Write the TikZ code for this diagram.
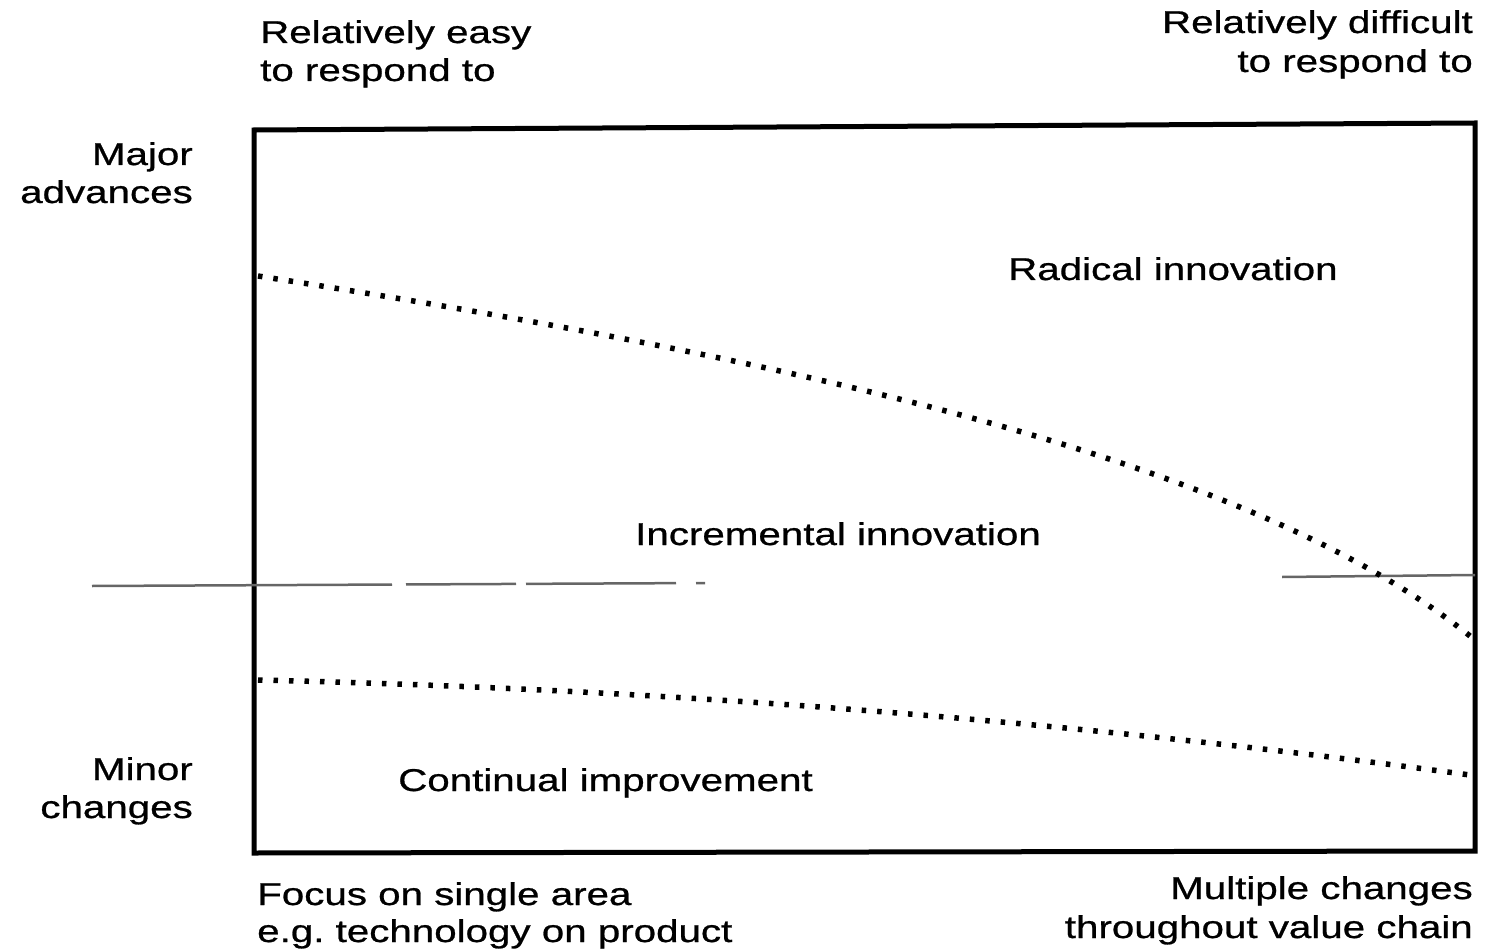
\documentclass[tikz,border=0pt]{standalone}
\usepackage{fontspec}
\setmainfont{Liberation Sans}[FakeStretch=1.28,FakeBold=0.8]
\begin{document}
\begin{tikzpicture}[x=1pt,y=-1pt,
  lbl/.style={inner sep=0pt, font=\fontsize{31.5}{40}\selectfont},
  frame/.style={line width=5pt, line join=miter},
  dotline/.style={line width=5.5pt, dash pattern=on 4.5pt off 11pt},
  midline/.style={line width=2.5pt, black!60}]
\useasboundingbox (0,0) rectangle (1485,949);
% frame
\coordinate (tl) at (254,130);
\coordinate (tr) at (1475,123);
\coordinate (br) at (1475,851);
\coordinate (bl) at (254,853);
\draw[frame] (tl) -- (tr) -- (br) -- (bl) -- cycle;
% faint middle line
\coordinate (m0) at (92,586);
\coordinate (m1) at (705,583);
\coordinate (m2) at (1282,577);
\coordinate (m3) at (1475,575);
\draw[midline, dash pattern=on 300pt off 14pt on 110pt off 10pt on 150pt off 20pt on 60pt off 8pt] (m0) -- (m1);
\draw[midline] (m2) -- (m3);
% dotted boundaries
\coordinate (u0) at (258,276);
\coordinate (u1) at (1470,636);
\draw[dotline] (u0) .. controls (800,360) and (1250,460) .. (u1);
\coordinate (l0) at (258,680);
\coordinate (l1) at (1470,775);
\draw[dotline] (l0) .. controls (700,690) and (1100,725) .. (l1);
% labels
\node[lbl, anchor=base west] (easy1) at (260,43) {Relatively easy};
\node[lbl, anchor=base west] (easy2) at (260,81) {to respond to};
\node[lbl, anchor=base east] (diff1) at (1473,33) {Relatively difficult};
\node[lbl, anchor=base east] (diff2) at (1473,72) {to respond to};
\node[lbl, anchor=base east] (maj1) at (193,165) {Major};
\node[lbl, anchor=base east] (maj2) at (193,203) {advances};
\node[lbl, anchor=base east] (min1) at (193,780) {Minor};
\node[lbl, anchor=base east] (min2) at (193,818) {changes};
\node[lbl, anchor=base west] (rad) at (1008,280) {Radical innovation};
\node[lbl, anchor=base west] (inc) at (635,545) {Incremental innovation};
\node[lbl, anchor=base west] (cont) at (398,791) {Continual improvement};
\node[lbl, anchor=base west] (foc1) at (257,905) {Focus on single area};
\node[lbl, anchor=base west] (foc2) at (257,942) {e.g.\ technology on product};
\node[lbl, anchor=base east] (mul1) at (1473,899) {Multiple changes};
\node[lbl, anchor=base east] (mul2) at (1473,938) {throughout value chain};
\end{tikzpicture}
\end{document}
